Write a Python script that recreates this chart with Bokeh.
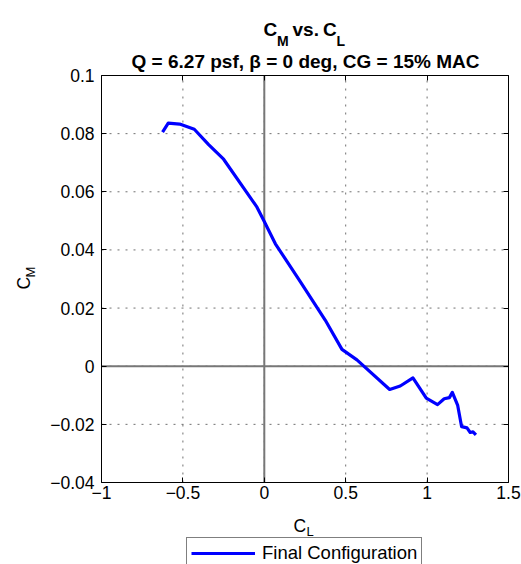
import math
from bokeh.plotting import figure
from bokeh.models import (FixedTicker, CustomJSTickFormatter, LinearAxis, Label,
                          Legend, LegendItem, Range1d)
from bokeh.embed import file_html
from bokeh.resources import INLINE

# ---- data ----
cl = [-0.625, -0.59, -0.52, -0.43, -0.342, -0.25, -0.045, -0.004, 0.068, 0.221,
      0.375, 0.477, 0.569, 0.770, 0.835, 0.913, 0.995, 1.064, 1.105, 1.137,
      1.155, 1.188, 1.212, 1.245, 1.265, 1.282, 1.300]
cm = [0.0805, 0.0836, 0.0833, 0.0815, 0.0762, 0.0712, 0.0547, 0.0502, 0.0421, 0.0291,
      0.0158, 0.0058, 0.0022, -0.0080, -0.0068, -0.0040, -0.0110, -0.0132, -0.0112, -0.0108,
      -0.0090, -0.0135, -0.0208, -0.0212, -0.0228, -0.0226, -0.0236]
x_lim = (-1, 1.5)
y_lim = (-0.04, 0.1)
x_ticks = [-1, -0.5, 0, 0.5, 1, 1.5]
y_ticks = [-0.04, -0.02, 0, 0.02, 0.04, 0.06, 0.08, 0.1]
x_grid = [-0.5, 0, 0.5, 1]
y_grid = [-0.02, 0, 0.02, 0.04, 0.06, 0.08]
zero = [0]
series_name = "Final Configuration"
title_parts = [("C", False), ("M", True), ("vs.", False), ("C", False), ("L", True)]
subtitle = "Q = 6.27 psf, \u03b2 = 0 deg, CG = 15% MAC"
xlabel = ("C", "L")
ylabel = ("C", "M")

FONT = "Liberation Sans"
FS = "17.5px"

# canvas and the pixel box of the axes (left, right, top, bottom)
W, H = 521, 564
L, R, T, B = 101, 508, 75, 482

# the plot frame covers the whole canvas; ranges chosen so the axes box lands on L..R, T..B
sx = (R - L) / (x_lim[1] - x_lim[0])
sy = (B - T) / (y_lim[1] - y_lim[0])
x_range = Range1d(x_lim[0] - L / sx, x_lim[1] + (W - R) / sx)
y_range = Range1d(y_lim[0] - (H - B) / sy, y_lim[1] + T / sy)

p = figure(width=W, height=H, output_backend="svg", toolbar_location=None,
           x_range=x_range, y_range=y_range, min_border=0,
           x_axis_location=None, y_axis_location=None)
p.title.visible = False
p.background_fill_color = "white"
p.border_fill_color = "white"
p.outline_line_color = None
p.xgrid.visible = False
p.ygrid.visible = False

fmt = CustomJSTickFormatter(code="""
const v = Math.round(tick * 1000) / 1000;
const s = String(Math.abs(v));
return v < 0 ? '\\u2212' + s : s;
""")
blank = CustomJSTickFormatter(code="return '';")


def make_axis(ticks, formatter, standoff, loc, bounds, side):
    ax = LinearAxis(ticker=FixedTicker(ticks=ticks), formatter=formatter,
                    fixed_location=loc, bounds=bounds)
    ax.major_tick_in = 5
    ax.major_tick_out = 0
    ax.minor_tick_line_color = None
    ax.axis_line_color = "black"
    ax.axis_line_width = 1
    ax.major_tick_line_color = "black"
    ax.major_label_text_font = FONT
    ax.major_label_text_font_size = FS
    ax.major_label_text_color = "black"
    ax.major_label_standoff = standoff
    p.add_layout(ax, side)
    return ax


# dotted grid and zero lines, spanning the axes box only
p.segment(x0=x_grid, y0=[y_lim[0]] * len(x_grid), x1=x_grid, y1=[y_lim[1]] * len(x_grid),
          line_color="#707070", line_width=1, line_dash="2 6")
p.segment(x0=[x_lim[0]] * len(y_grid), y0=y_grid, x1=[x_lim[1]] * len(y_grid), y1=y_grid,
          line_color="#707070", line_width=1, line_dash="2 6")
p.segment(x0=zero, y0=[y_lim[0]], x1=zero, y1=[y_lim[1]], line_color="#777777", line_width=2)
p.segment(x0=[x_lim[0]], y0=zero, x1=[x_lim[1]], y1=zero, line_color="#777777", line_width=2)

r = p.line(cl, cm, line_color="#0000ff", line_width=3.2, line_join="round")

make_axis(x_ticks, fmt, 3, y_lim[0], x_lim, "below")
make_axis(y_ticks, fmt, 7, x_lim[0], y_lim, "left")
make_axis(x_ticks, blank, 0, y_lim[1], x_lim, "above").major_label_text_font_size = "0px"
make_axis(y_ticks, blank, 0, x_lim[1], y_lim, "right").major_label_text_font_size = "0px"

# legend: top edge near canvas y=536, running past the bottom edge as in the reference
legend = Legend(items=[LegendItem(label=series_name, renderers=[r])],
                location=(186, H - 537 - 32), padding=4, spacing=0, margin=0,
                glyph_width=64, glyph_height=20, label_height=20, label_standoff=7,
                label_text_font=FONT, label_text_font_size="18.5px", label_text_color="black",
                border_line_color="black", border_line_width=1,
                background_fill_color="white", background_fill_alpha=1)
p.add_layout(legend, "center")


def lab(text, xc, yc, size, bold=False, angle=0.0, align="left"):
    p.add_layout(Label(x=xc, y=H - yc, x_units="screen", y_units="screen",
                       text=text, text_font=FONT, text_font_size=size,
                       text_font_style="bold" if bold else "normal",
                       text_color="black", text_align=align,
                       text_baseline="alphabetic", angle=angle))


xpos = [263, 276.5, 292, 322.5, 336]
for (txt, sub), xc in zip(title_parts, xpos):
    lab(txt, xc, 40 if sub else 29, "14px" if sub else "19px", bold=True)
lab(subtitle, 305, 61, "19px", bold=True, align="center")

lab(xlabel[0], 293, 525, FS)
lab(xlabel[1], 306, 531, "13px")
lab(ylabel[0], 23, 289, FS, angle=math.pi / 2)
lab(ylabel[1], 30, 277, "13px", angle=math.pi / 2)

open("out.html", "w").write(file_html(p, INLINE))
